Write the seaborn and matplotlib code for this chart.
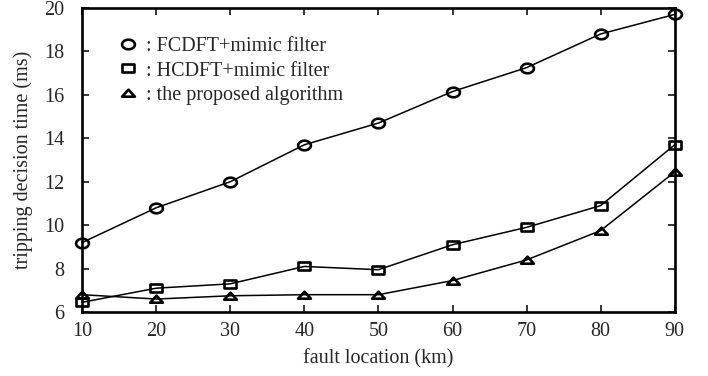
import matplotlib
matplotlib.use("Agg")
import matplotlib.pyplot as plt
import seaborn as sns
import pandas as pd
import numpy as np
from matplotlib.path import Path

locations = [10, 20, 30, 40, 50, 60, 70, 80, 90]
fcdft = [9.2, 10.8, 12.0, 13.7, 14.7, 16.15, 17.25, 18.8, 19.7]
hcdft = [6.45, 7.1, 7.3, 8.1, 7.95, 9.1, 9.9, 10.9, 13.7]
proposed = [6.8, 6.6, 6.75, 6.8, 6.8, 7.45, 8.4, 9.75, 12.45]
labels = [": FCDFT+mimic filter", ": HCDFT+mimic filter", ": the proposed algorithm"]

sns.set_theme(style="ticks")
plt.rcParams['font.family'] = ['Liberation Serif', 'DejaVu Serif']

# slightly flattened marker shapes as in the reference
t = np.linspace(0, 2 * np.pi, 60)
ellipse = Path(np.column_stack([np.cos(t), 0.75 * np.sin(t)]), closed=True)
rect = Path([(-1, -0.7), (1, -0.7), (1, 0.7), (-1, 0.7), (-1, -0.7)], closed=True)
tri = Path([(-1, -0.5), (1, -0.5), (0, 0.6), (-1, -0.5)], closed=True)

df = pd.concat([
    pd.DataFrame({"loc": locations, "time": vals, "series": lab})
    for vals, lab in zip([fcdft, hcdft, proposed], labels)
])

fig = plt.figure(figsize=(7.08, 3.76), dpi=100)
ax = fig.add_axes([0.116, 0.170, 0.837, 0.809])
sns.lineplot(data=df, x="loc", y="time", hue="series", style="series",
             markers=[ellipse, rect, tri], dashes=False, palette=["black"] * 3,
             markersize=9.2, markerfacecolor="none", markeredgecolor="black",
             markeredgewidth=1.9, linewidth=1.1, ax=ax, clip_on=False)

ax.set_xlim(10, 90)
ax.set_ylim(6, 20)
ax.set_xticks(locations)
ax.set_yticks(range(6, 21, 2))
ax.tick_params(direction="in", top=True, right=True, labelsize=14.5, length=5, width=1.3)
ax.tick_params(axis="x", pad=7)
ax.tick_params(axis="y", pad=13)
for s in ax.spines.values():
    s.set_linewidth(1.9)
    s.set_color("black")
ax.set_xlabel("fault location (km)", fontsize=14.5, labelpad=6)
ax.set_ylabel("tripping decision time (ms)", fontsize=14.5, labelpad=8)

h, l = ax.get_legend_handles_labels()
leg = ax.legend(h, l, loc="upper left", bbox_to_anchor=(0.03, 0.965), frameon=False,
                fontsize=14.5, handlelength=1.0, handletextpad=0.4, labelspacing=0.28)
for line in leg.get_lines():
    line.set_linestyle("none")

fig.savefig("out.png", dpi=100)
